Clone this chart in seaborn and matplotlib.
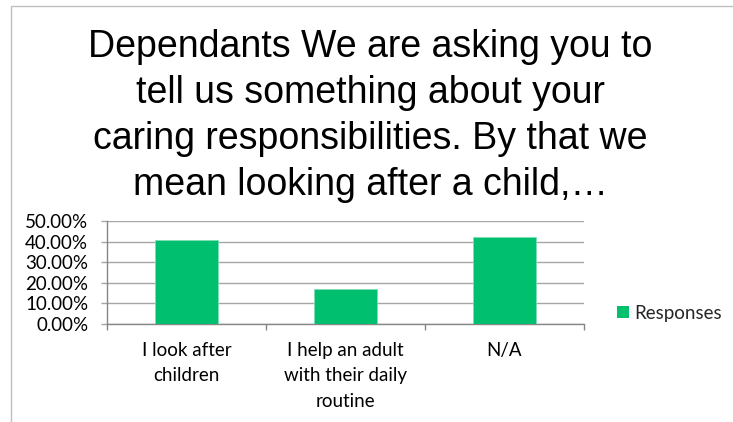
import matplotlib
matplotlib.use("Agg")
import matplotlib.pyplot as plt
from matplotlib.patches import Rectangle, Patch
from matplotlib.ticker import FixedLocator, PercentFormatter
import seaborn as sns
import pandas as pd

# Survey responses (share of respondents, %)
categories = ["I look after\nchildren", "I help an adult\nwith their daily\nroutine", "N/A"]
values = [41, 17, 42]
series_name = "Responses"
y_ticks = [0, 10, 20, 30, 40, 50]
title = ("Dependants We are asking you to\ntell us something about your\n"
         "caring responsibilities. By that we\nmean looking after a child,\u2026")

GREEN = "#00BF6F"
GRID = "#A6A6A6"
AXIS = "#868686"

sns.set_theme(style="white")
plt.rcParams["font.family"] = ["Lato", "DejaVu Sans"]

df = pd.DataFrame({"category": categories, "value": values})

fig = plt.figure(figsize=(7.33, 4.22), dpi=100)
ax = fig.add_axes([107 / 733, 1 - 324 / 422, (584 - 107) / 733, (324 - 221) / 422])

sns.barplot(data=df, x="category", y="value", color=GREEN, width=0.4,
            saturation=1, edgecolor="#7FDDB5", linewidth=0.6, ax=ax, zorder=3)

ax.set_xlim(-0.5, len(categories) - 0.5)
ax.set_ylim(0, 50)
ax.yaxis.set_major_locator(FixedLocator(y_ticks))
ax.yaxis.set_major_formatter(PercentFormatter(decimals=2))
ax.grid(axis="y", color=GRID, linewidth=1.0, zorder=0)
ax.set_axisbelow(True)
ax.set_xlabel("")
ax.set_ylabel("")

for side in ("top", "right"):
    ax.spines[side].set_visible(False)
for side in ("left", "bottom"):
    ax.spines[side].set_color(AXIS)
    ax.spines[side].set_linewidth(1.0)

# category boundary ticks below the axis
ax.xaxis.set_minor_locator(FixedLocator([i - 0.5 for i in range(len(categories) + 1)]))
ax.tick_params(axis="x", which="minor", length=4.5, width=1, color=AXIS, direction="out", bottom=True)
ax.tick_params(axis="x", which="major", length=0, pad=13, labelsize=13.5, colors="black")
ax.tick_params(axis="y", which="major", length=4.5, width=1, color=GRID, direction="out",
               left=True, pad=9, labelsize=13.5, labelcolor="black")
for lbl in ax.get_xticklabels():
    lbl.set_linespacing(1.6)
    lbl.set_horizontalalignment("center")

# legend to the right of the plot
handle = Patch(facecolor=GREEN, edgecolor="none", label=series_name)
fig.legend(handles=[handle], loc="center left", bbox_to_anchor=(617 / 733, 1 - 313 / 422),
           frameon=False, fontsize=13.5, handlelength=0.62, handleheight=0.62,
           handletextpad=0.3, borderaxespad=0, borderpad=0)

fig.text(0.505, 1 - 29 / 422, title, ha="center", va="top", fontsize=27,
         family=["Liberation Sans", "DejaVu Sans"], linespacing=1.36, color="black")

# outer chart frame
fig.add_artist(Rectangle((11 / 733, -0.1), 1.2, 1 - 6 / 422 + 0.1, transform=fig.transFigure,
                         fill=False, edgecolor="#BFBFBF", linewidth=1.0))

fig.savefig("out.png", dpi=100)
